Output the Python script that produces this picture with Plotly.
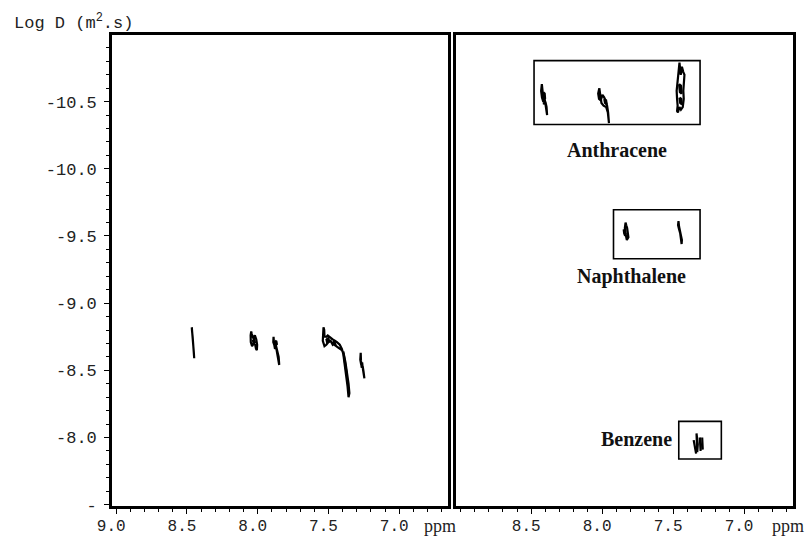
import plotly.graph_objects as go

# ---------------- data ----------------
X_TICKS_LEFT = [9.0, 8.5, 8.0, 7.5, 7.0]
X_TICK_TEXT_LEFT = ["9.0", "8.5", "8.0", "7.5", "7.0"]
X_TICKS_RIGHT = [8.5, 8.0, 7.5, 7.0]
X_TICK_TEXT_RIGHT = ["8.5", "8.0", "7.5", "7.0"]
Y_TICKS = [-10.5, -10.0, -9.5, -9.0, -8.5, -8.0, -7.5]
Y_TICK_TEXT = ["-10.5", "-10.0", "-9.5", "-9.0", "-8.5", "-8.0", "-"]

# mixture cross-peak contours (ppm, log D), loops separated by None
MIX_PPM = [
    8.466, 8.463, 8.458, 8.452, 8.449, 8.451, 8.455, 8.460, 8.464, 8.466, None,
    8.046, 8.050, 8.049, 8.040, 8.028, 8.018, 8.012, 8.006, 8.004, 8.010, 8.020, 8.032, 8.042, 8.046, None,
    8.035, 8.025, 8.020, 8.030, 8.035, None,
    7.888, 7.890, 7.880, 7.872, 7.868, 7.860, 7.852, 7.848, 7.852, 7.860, 7.868, 7.878, 7.885, 7.888, None,
    7.878, 7.868, 7.864, 7.874, 7.878, None,
    7.535, 7.530, 7.528, 7.515, 7.505, 7.495, 7.480, 7.470, 7.455, 7.440, 7.420, 7.405, 7.395, 7.385,
    7.375, 7.365, 7.358, 7.352, 7.358, 7.368, 7.380, 7.392, 7.405, 7.418, 7.430, 7.445, 7.460, 7.470,
    7.485, 7.500, 7.515, 7.528, 7.540, 7.538, 7.535, None,
    7.515, 7.500, 7.495, 7.510, 7.515, None,
    7.470, 7.455, 7.450, 7.465, 7.470, None,
    7.395, 7.383, 7.372, None,
    7.272, 7.275, 7.268, 7.262, 7.258, 7.250, 7.246, 7.252, 7.258, 7.265, 7.270, 7.272,
]
MIX_LOGD = [
    -8.82, -8.76, -8.70, -8.64, -8.59, -8.64, -8.70, -8.75, -8.79, -8.82, None,
    -8.79, -8.76, -8.71, -8.68, -8.70, -8.69, -8.66, -8.65, -8.69, -8.73, -8.76, -8.74, -8.77, -8.79, None,
    -8.73, -8.735, -8.71, -8.705, -8.73, None,
    -8.75, -8.71, -8.68, -8.69, -8.66, -8.62, -8.58, -8.54, -8.60, -8.65, -8.67, -8.66, -8.70, -8.75, None,
    -8.72, -8.715, -8.69, -8.695, -8.72, None,
    -8.82, -8.80, -8.75, -8.75, -8.76, -8.75, -8.74, -8.73, -8.72, -8.71, -8.69, -8.66, -8.62, -8.55,
    -8.46, -8.38, -8.30, -8.33, -8.40, -8.48, -8.56, -8.62, -8.65, -8.66, -8.67, -8.68, -8.70, -8.69,
    -8.72, -8.71, -8.69, -8.68, -8.72, -8.78, -8.82, None,
    -8.735, -8.74, -8.715, -8.71, -8.735, None,
    -8.715, -8.705, -8.685, -8.695, -8.715, None,
    -8.64, -8.56, -8.48, None,
    -8.63, -8.58, -8.54, -8.56, -8.52, -8.48, -8.44, -8.49, -8.53, -8.52, -8.57, -8.63,
]

ANTH_PPM = [
    8.425, 8.430, 8.424, 8.415, 8.405, 8.398, 8.392, 8.388, 8.392, 8.400, 8.410, 8.418, 8.425, None,
    8.415, 8.405, 8.402, 8.412, 8.415, None,
    8.020, 8.028, 8.022, 8.010, 7.998, 7.985, 7.975, 7.965, 7.958, 7.955, 7.952, 7.960, 7.972, 7.990, 8.005, 8.015, 8.020, None,
    7.985, 7.972, 7.968, 7.980, 7.985, None,
    7.455, 7.460, 7.468, 7.475, 7.472, 7.468, 7.472, 7.466, 7.455, 7.445, 7.432, 7.425, 7.428, 7.422, 7.420, 7.428, 7.438, 7.446, 7.450, 7.455, None,
    7.458, 7.445, 7.440, 7.452, 7.458, None,
    7.455, 7.442, 7.438, 7.450, 7.455,
]
ANTH_LOGD = [
    -10.63, -10.58, -10.53, -10.50, -10.52, -10.48, -10.44, -10.40, -10.46, -10.50, -10.48, -10.56, -10.63, None,
    -10.57, -10.56, -10.52, -10.53, -10.57, None,
    -10.60, -10.56, -10.52, -10.51, -10.55, -10.53, -10.50, -10.47, -10.42, -10.36, -10.34, -10.42, -10.46, -10.47, -10.49, -10.55, -10.60, None,
    -10.52, -10.51, -10.48, -10.49, -10.52, None,
    -10.79, -10.72, -10.66, -10.58, -10.52, -10.47, -10.43, -10.42, -10.46, -10.44, -10.46, -10.52, -10.58, -10.64, -10.70, -10.72, -10.76, -10.70, -10.76, -10.79, None,
    -10.63, -10.62, -10.56, -10.57, -10.63, None,
    -10.53, -10.52, -10.48, -10.49, -10.53,
]

NAPH_PPM = [
    7.835, 7.840, 7.836, 7.826, 7.815, 7.818, 7.824, 7.830, 7.835, None,
    7.848, 7.842, 7.838, 7.845, 7.848, None,
    7.462, 7.465, 7.458, 7.450, 7.445, 7.440, 7.438, 7.445, 7.452, 7.458, 7.462,
]
NAPH_LOGD = [
    -9.60, -9.56, -9.52, -9.47, -9.49, -9.54, -9.56, -9.58, -9.60, None,
    -9.55, -9.53, -9.50, -9.52, -9.55, None,
    -9.61, -9.58, -9.55, -9.52, -9.48, -9.44, -9.47, -9.50, -9.54, -9.57, -9.61,
]

BENZ_PPM = [
    7.355, 7.345, 7.338, 7.342, 7.350, 7.355, None,
    7.335, 7.332, 7.330, 7.326, 7.330, 7.335, None,
    7.312, 7.310, 7.306, 7.304, 7.308, 7.312, None,
    7.295, 7.294, 7.291, 7.290, 7.295,
]
BENZ_LOGD = [
    -7.98, -7.92, -7.88, -7.92, -7.97, -7.98, None,
    -8.03, -7.96, -7.89, -7.95, -8.01, -8.03, None,
    -8.00, -7.95, -7.90, -7.95, -7.99, -8.00, None,
    -8.00, -7.95, -7.91, -7.96, -8.00,
]

# compound boxes: (ppm_left, ppm_right, logD_top, logD_bottom)
BOX_NAMES = ["Anthracene", "Naphthalene", "Benzene"]
BOX_PPM_LEFT = [8.48, 7.92, 7.46]
BOX_PPM_RIGHT = [7.31, 7.31, 7.16]
BOX_LOGD_TOP = [-10.805, -9.695, -8.12]
BOX_LOGD_BOTTOM = [-10.33, -9.33, -7.84]
LABEL_PPM = [7.894, 7.795, 7.76]
LABEL_LOGD = [-10.14, -9.20, -7.99]

X_RANGE = [9.03, 6.655]
Y_RANGE = [-7.49, -10.996]

# ---------------- figure ----------------
MONO = "Liberation Mono, Courier New, monospace"
SERIF = "Liberation Serif, Times New Roman, serif"
line_style = dict(color="black", width=2.2)

fig = go.Figure()
fig.add_trace(go.Scatter(x=MIX_PPM, y=MIX_LOGD, mode="lines", line=line_style,
                         xaxis="x", yaxis="y", hoverinfo="skip"))
for px, py in [(ANTH_PPM, ANTH_LOGD), (NAPH_PPM, NAPH_LOGD), (BENZ_PPM, BENZ_LOGD)]:
    fig.add_trace(go.Scatter(x=px, y=py, mode="lines", line=line_style,
                             xaxis="x2", yaxis="y2", hoverinfo="skip"))

for i in range(len(BOX_NAMES)):
    fig.add_shape(type="rect", xref="x2", yref="y2",
                  x0=BOX_PPM_LEFT[i], x1=BOX_PPM_RIGHT[i],
                  y0=BOX_LOGD_TOP[i], y1=BOX_LOGD_BOTTOM[i],
                  line=dict(color="black", width=1.6))
    fig.add_annotation(x=LABEL_PPM[i], y=LABEL_LOGD[i], xref="x2", yref="y2",
                       text="<b>" + BOX_NAMES[i] + "</b>", showarrow=False,
                       font=dict(family=SERIF, size=20, color="#111"))

common_x = dict(range=X_RANGE, tickmode="array",
                ticks="outside", ticklen=5, tickwidth=1.2, tickcolor="black",
                showline=True, linewidth=2.6, linecolor="black", mirror=True,
                showgrid=False, zeroline=False, automargin=False,
                tickfont=dict(family=MONO, size=16, color="#222"),
                ticklabelshift=5, ticklabelstandoff=-2,
                minor=dict(tickmode="linear", tick0=0, dtick=0.1, ticks="outside",
                           ticklen=3, tickwidth=1, tickcolor="black", showgrid=False))

fig.update_layout(
    width=806, height=537,
    margin=dict(l=0, r=0, t=0, b=0, autoexpand=False),
    paper_bgcolor="white", plot_bgcolor="white",
    showlegend=False,
    xaxis=dict(domain=[112 / 806, 448 / 806], anchor="y",
               tickvals=X_TICKS_LEFT, ticktext=X_TICK_TEXT_LEFT, **common_x),
    xaxis2=dict(domain=[456 / 806, 793 / 806], anchor="y2",
                tickvals=X_TICKS_RIGHT, ticktext=X_TICK_TEXT_RIGHT, **common_x),
    yaxis=dict(domain=[1 - 506 / 537, 1 - 35 / 537], anchor="x",
               range=Y_RANGE, tickmode="array", tickvals=Y_TICKS, ticktext=Y_TICK_TEXT,
               ticks="outside", ticklen=5, tickwidth=1.2, tickcolor="black",
               showline=True, linewidth=2.6, linecolor="black", mirror=True,
               showgrid=False, zeroline=False, automargin=False,
               tickfont=dict(family=MONO, size=17, color="#222"),
               ticklabelstandoff=4,
               minor=dict(tickmode="linear", tick0=0, dtick=0.1, ticks="outside",
                          ticklen=3, tickwidth=1, tickcolor="black", showgrid=False)),
    yaxis2=dict(domain=[1 - 506 / 537, 1 - 35 / 537], anchor="x2", matches="y",
                range=Y_RANGE, showticklabels=False, ticks="",
                showline=True, linewidth=2.6, linecolor="black", mirror=True,
                showgrid=False, zeroline=False, automargin=False),
)

# axis title and unit labels
fig.add_annotation(x=12 / 806, y=1 - 22 / 537, xref="paper", yref="paper",
                   xanchor="left", yanchor="middle", showarrow=False,
                   text="Log D (m<sup>2</sup>.s)",
                   font=dict(family=MONO, size=17, color="#222"))
for xp in [422 / 806, 770 / 806]:
    fig.add_annotation(x=xp, y=1 - 526 / 537, xref="paper", yref="paper",
                       xanchor="left", yanchor="middle", showarrow=False,
                       text="ppm", font=dict(family=SERIF, size=18, color="#222"))

fig.write_html("out.html", config={"displayModeBar": False},
               post_script="document.body.style.margin='0';document.body.style.overflow='hidden';")
